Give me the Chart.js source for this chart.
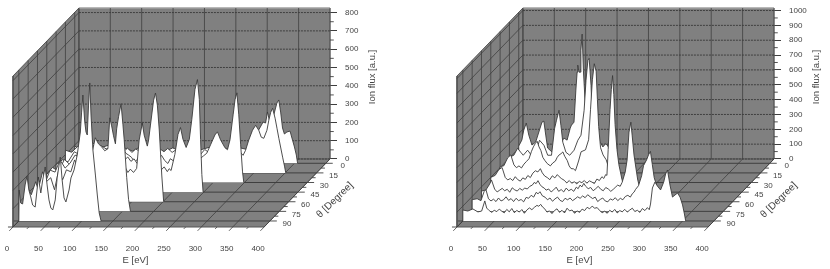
<!DOCTYPE html>
<html lang="en">
<head>
<meta charset="UTF-8">
<title>Ion flux versus energy and angle</title>
<script src="https://cdn.jsdelivr.net/npm/chart.js"></script>
<style>
  body { margin: 0; background: #fff; }
  canvas { position: absolute; top: 0; filter: blur(0.4px); }
  #leftChart { left: 0; }
  #rightChart { left: 415px; }
</style>
</head>
<body>
<canvas id="leftChart" width="415" height="269"></canvas>
<canvas id="rightChart" width="415" height="269"></canvas>
<script>
// tick labels
var energyTicks = [0, 50, 100, 150, 200, 250, 300, 350, 400];
var thetaTicks = [0, 15, 30, 45, 60, 75, 90];
var leftFluxTicks = [0, 100, 200, 300, 400, 500, 600, 700, 800];
var rightFluxTicks = [0, 100, 200, 300, 400, 500, 600, 700, 800, 900, 1000];

// left plot, one list of [E, flux] per angle
var left0 = [[0,0],[0,95],[8,73],[18,100],[28,73],[40,84],[53,89],[66,73],[79,84],[92,67],[104,89],[117,73],[130,84],[143,62],[156,84],[168,67],[184,84],[200,73],[216,89],[232,73],[248,84],[264,84],[277,73],[287,127],[293,182],[300,225],[304,220],[307,280],[310,236],[314,215],[317,264],[322,329],[325,346],[328,280],[331,193],[334,160],[338,171],[343,176],[346,138],[350,89],[353,45],[355,0]];
var left15 = [[0,0],[0,124],[10,113],[20,146],[31,124],[42,168],[55,135],[68,151],[81,124],[87,138],[93,118],[99,135],[106,112],[112,130],[119,118],[125,140],[132,112],[138,128],[145,108],[151,130],[157,116],[163,134],[170,112],[176,126],[183,106],[189,128],[195,120],[199,136],[205,108],[210,122],[215,100],[222,128],[228,112],[234,130],[241,104],[247,120],[253,92],[260,116],[266,128],[272,100],[279,112],[283,96],[287,124],[292,179],[298,233],[303,260],[308,233],[312,195],[316,189],[321,233],[324,288],[327,331],[330,353],[334,299],[337,244],[340,189],[346,86],[349,37],[351,0]];
var left30 = [[0,0],[0,97],[10,124],[19,113],[29,168],[38,151],[48,190],[58,168],[67,206],[77,179],[86,190],[96,168],[106,190],[111,160],[115,151],[120,138],[125,112],[130,128],[134,146],[139,118],[144,132],[149,110],[154,135],[158,112],[163,128],[168,148],[173,120],[178,104],[182,130],[187,118],[192,146],[197,120],[202,112],[207,136],[211,104],[216,128],[221,100],[226,118],[230,132],[235,146],[240,160],[246,206],[253,260],[257,277],[262,233],[269,190],[273,179],[277,233],[282,370],[285,452],[288,490],[291,370],[294,206],[297,58],[299,0]];
var left45 = [[0,0],[0,97],[9,135],[19,113],[28,179],[38,146],[48,206],[57,179],[67,233],[76,206],[86,255],[96,233],[105,222],[110,196],[115,212],[120,186],[124,176],[129,192],[134,168],[139,182],[144,156],[149,172],[153,148],[158,170],[163,140],[168,158],[172,132],[177,146],[182,120],[187,138],[192,112],[195,128],[198,118],[204,206],[209,315],[213,353],[217,288],[222,244],[227,288],[231,397],[236,561],[240,615],[243,506],[245,288],[247,97],[249,0]];
var left60 = [[0,0],[0,91],[7,129],[14,118],[20,173],[28,162],[36,228],[44,184],[52,211],[60,255],[68,239],[76,293],[84,282],[92,320],[100,282],[108,255],[116,282],[124,230],[128,200],[132,188],[136,172],[140,186],[144,160],[148,178],[153,160],[158,182],[162,337],[167,430],[170,364],[175,304],[177,337],[180,419],[185,555],[188,594],[191,528],[194,392],[198,146],[201,0]];
var left75 = [[0,0],[1,118],[5,91],[12,162],[16,118],[23,216],[29,162],[36,184],[42,118],[48,216],[55,173],[61,227],[68,216],[74,281],[80,238],[87,309],[93,336],[100,293],[107,402],[112,369],[117,353],[122,331],[127,342],[130,511],[133,467],[136,413],[139,369],[141,451],[144,517],[148,588],[151,473],[153,391],[157,184],[160,64],[163,0]];
var left90 = [[0,0],[0.5,169],[3,98],[6,93],[10,197],[13,246],[16,169],[19,131],[22,87],[26,76],[29,169],[31,240],[35,153],[38,224],[42,295],[45,197],[48,115],[51,71],[54,60],[58,115],[61,235],[66,349],[69,224],[72,126],[75,104],[80,169],[83,235],[88,279],[93,360],[98,486],[100,595],[102,688],[105,541],[107,486],[109,470],[111,633],[113,754],[115,579],[118,388],[122,251],[125,142],[128,44],[131,0]];

// right plot
var right0 = [[0,0],[0,116],[5,157],[8,224],[12,271],[16,190],[21,123],[27,143],[34,237],[37,277],[40,284],[43,190],[46,103],[53,76],[59,89],[66,123],[72,170],[77,156],[82,237],[84,257],[88,277],[91,493],[93,614],[94,661],[96,614],[98,614],[99,762],[101,870],[103,627],[106,392],[108,312],[112,157],[118,136],[122,148],[126,128],[130,140],[134,110],[138,130],[141,123],[147,76],[154,22],[160,0]];
var right15 = [[0,0],[0,106],[7,119],[13,166],[18,139],[22,119],[29,153],[35,119],[42,139],[48,220],[55,186],[61,119],[67,119],[72,301],[75,355],[79,422],[82,321],[85,207],[90,139],[96,119],[103,153],[109,220],[114,254],[119,422],[122,624],[125,759],[127,772],[130,590],[132,355],[133,187],[138,166],[144,119],[152,52],[160,0]];
var right30 = [[0,0],[0,106],[6,113],[12,166],[17,186],[22,119],[26,100],[30,112],[34,98],[38,124],[42,142],[46,160],[50,210],[53,240],[56,262],[59,278],[62,240],[65,215],[68,170],[71,150],[75,128],[80,112],[84,132],[88,144],[91,170],[94,186],[97,194],[100,206],[103,176],[107,148],[110,112],[113,94],[117,92],[120,80],[123,118],[125,145],[129,207],[136,220],[141,288],[144,490],[147,692],[150,800],[153,748],[155,559],[157,377],[160,234],[164,186],[169,153],[175,72],[183,0]];
var right45 = [[0,0],[0,99],[7,113],[13,153],[18,166],[23,99],[27,82],[31,92],[35,78],[39,104],[43,84],[47,74],[51,96],[55,86],[59,112],[63,98],[67,128],[71,144],[75,136],[79,158],[82,130],[86,108],[90,98],[94,84],[98,110],[102,96],[106,118],[109,104],[113,90],[117,80],[121,62],[125,78],[129,60],[133,70],[137,56],[141,72],[145,64],[149,78],[153,60],[157,76],[161,68],[165,58],[169,88],[173,78],[177,104],[180,92],[183,118],[185,113],[187,288],[190,557],[192,692],[194,785],[196,657],[198,455],[201,288],[204,186],[209,85],[215,0]];
var right60 = [[0,0],[0,72],[7,79],[13,119],[16,146],[21,85],[25,66],[29,78],[33,90],[37,74],[41,84],[45,64],[49,94],[53,80],[57,72],[61,90],[65,78],[69,92],[73,86],[77,104],[81,112],[84,130],[87,122],[90,142],[93,118],[96,102],[100,92],[103,78],[107,86],[111,66],[115,80],[119,98],[123,70],[127,82],[131,66],[135,92],[139,74],[143,84],[147,70],[151,98],[154,88],[157,112],[160,100],[163,124],[166,104],[170,88],[174,96],[178,74],[182,88],[186,104],[190,84],[194,74],[198,96],[202,86],[206,70],[210,84],[214,100],[217,112],[221,104],[224,130],[229,200],[232,281],[235,469],[238,536],[240,449],[243,315],[247,200],[249,146],[254,65],[259,0]];
var right75 = [[0,0],[0,79],[8,85],[14,72],[19,133],[22,146],[26,85],[30,70],[34,82],[38,66],[42,90],[46,70],[50,78],[54,98],[58,74],[62,86],[66,66],[70,88],[74,72],[78,80],[82,64],[86,94],[90,88],[94,108],[98,96],[102,128],[105,118],[108,132],[112,104],[116,96],[120,78],[124,90],[128,68],[132,84],[136,96],[140,74],[144,66],[148,88],[152,78],[156,90],[160,72],[164,84],[168,98],[172,88],[176,104],[180,92],[184,112],[188,98],[192,86],[196,96],[200,66],[204,80],[208,90],[212,70],[216,64],[220,84],[224,76],[228,92],[232,72],[236,88],[240,78],[244,100],[248,108],[252,96],[255,118],[258,130],[260,146],[265,173],[270,240],[273,308],[278,348],[281,381],[284,404],[287,315],[290,227],[294,173],[297,106],[302,0]];
var right90 = [[0,0],[0,74],[8,67],[16,81],[24,61],[30,67],[35,135],[38,87],[42,70],[46,58],[50,72],[54,63],[58,80],[62,66],[66,55],[70,78],[74,62],[78,84],[82,56],[86,71],[90,60],[94,77],[98,52],[102,74],[106,88],[110,76],[114,92],[118,105],[121,99],[124,112],[127,94],[130,84],[134,60],[138,68],[142,50],[146,70],[150,82],[154,58],[158,72],[162,54],[166,86],[170,68],[174,74],[178,52],[182,68],[186,58],[190,80],[194,70],[198,92],[202,82],[206,100],[210,86],[214,90],[218,70],[222,56],[226,66],[230,52],[234,72],[238,60],[242,78],[246,54],[250,70],[254,62],[258,78],[262,60],[266,74],[270,86],[274,64],[278,72],[282,58],[286,84],[290,70],[294,90],[297,76],[299,114],[302,222],[306,262],[310,235],[315,209],[320,262],[323,316],[326,343],[330,242],[334,161],[338,175],[342,188],[346,161],[350,108],[353,47],[355,0]];

var thetaBack = -6.7;
var thetaFront = 99.4;
var skewE = 105;
var wallColor = '#808080';
var gridColor = '#3f3f3f';
var lineColor = '#3a3a3a';
var textColor = '#444';
var fontFamily = '"Liberation Sans", Arial, sans-serif';

function makePanel(canvasId, fluxTicks, curves, wallTop, skewFlux, padLeft) {
    var eMax = energyTicks[energyTicks.length - 1];

    // oblique projection of (E, theta, flux) onto the two chart axes
    function project(e, theta, flux) {
        var t = (thetaFront - theta) / (thetaFront - thetaBack);
        return { x: e + t * skewE, y: flux + t * skewFlux };
    }

    var datasets = [];
    function add(points, color, width, dash, fillColor) {
        datasets.push({
            data: points,
            showLine: true,
            pointRadius: 0,
            tension: 0,
            clip: false,
            borderColor: color,
            borderWidth: width,
            borderDash: dash || [],
            backgroundColor: fillColor || 'transparent',
            fill: fillColor ? 'shape' : false
        });
    }

    // walls and floor
    add([project(0, thetaBack, 0), project(eMax, thetaBack, 0), project(eMax, thetaBack, wallTop), project(0, thetaBack, wallTop), project(0, thetaBack, 0)], '#777', 1, null, wallColor);
    add([project(0, thetaFront, 0), project(0, thetaBack, 0), project(0, thetaBack, wallTop), project(0, thetaFront, wallTop), project(0, thetaFront, 0)], '#555', 1, null, wallColor);
    add([project(0, thetaFront, 0), project(eMax, thetaFront, 0), project(eMax, thetaBack, 0), project(0, thetaBack, 0), project(0, thetaFront, 0)], '#555', 1, null, wallColor);
    add([project(0, thetaBack, wallTop), project(eMax, thetaBack, wallTop)], '#b5b5b5', 1);

    // grid on the walls
    energyTicks.forEach(function(e) {
        add([project(e, thetaBack, 0), project(e, thetaBack, wallTop)], gridColor, 0.8);
        add([project(e, thetaFront, 0), project(e, thetaBack, 0)], gridColor, 0.8);
    });
    fluxTicks.forEach(function(f) {
        add([project(0, thetaBack, f), project(eMax, thetaBack, f)], gridColor, 1, [2, 1]);
        add([project(0, thetaFront, f), project(0, thetaBack, f)], gridColor, 0.8);
    });
    thetaTicks.forEach(function(th) {
        add([project(0, th, 0), project(0, th, wallTop)], gridColor, 0.8);
        add([project(0, th, 0), project(eMax, th, 0)], gridColor, 1);
    });

    // the spectra, far one first
    curves.forEach(function(curve, i) {
        var pts = curve.map(function(p) { return project(p[0], thetaTicks[i], p[1]); });
        add(pts, lineColor, 0.9, null, '#fff');
    });

    // tick stubs that sit on the slanted axes
    energyTicks.forEach(function(e) {
        add([project(e, thetaFront, 0), project(e, thetaFront + 6, 0)], gridColor, 0.8);
        if (e < eMax) add([project(e + 25, thetaFront, 0), project(e + 25, thetaFront + 3, 0)], gridColor, 0.8);
    });
    thetaTicks.forEach(function(th) {
        add([project(eMax, th, 0), project(eMax + 11, th, 0)], gridColor, 0.9);
        if (th < 90) add([project(eMax, th + 7.5, 0), project(eMax + 6, th + 7.5, 0)], gridColor, 0.9);
    });
    add([project(-8, 90, 0), project(0, 90, 0)], gridColor, 0.9);
    add([project(-8, thetaFront, 0), project(0, thetaFront, 0)], gridColor, 0.9);
    for (var i = 0; i + 1 < fluxTicks.length; i++) {
        var half = (fluxTicks[i] + fluxTicks[i + 1]) / 2;
        add([project(eMax, thetaBack, half), project(eMax + 6, thetaBack, half)], gridColor, 0.9);
    }

    // Chart.js draws the first dataset on top
    datasets.reverse();

    var floorBack = project(0, thetaBack, 0).y;

    new Chart(document.getElementById(canvasId), {
        type: 'scatter',
        data: { datasets: datasets },
        plugins: [{
            id: 'obliqueLabels',
            afterDraw: function(chart) {
                var ctx = chart.ctx, sx = chart.scales.x, sy = chart.scales.y;
                ctx.save();
                ctx.fillStyle = textColor;
                ctx.textAlign = 'center';
                ctx.textBaseline = 'middle';
                ctx.font = '8px ' + fontFamily;
                thetaTicks.forEach(function(th) {
                    var p = project(eMax, th, 0);
                    ctx.fillText(String(th), sx.getPixelForValue(p.x) + 17, sy.getPixelForValue(p.y) + 3);
                });
                ctx.font = '9.5px ' + fontFamily;
                var c = project(eMax / 2, thetaFront, 0);
                ctx.fillText('E [eV]', sx.getPixelForValue(c.x) - 3, 260);
                ctx.save();
                ctx.translate(chart.chartArea.right + 42, 77);
                ctx.rotate(-Math.PI / 2);
                ctx.fillText('Ion flux [a.u.]', 0, 0);
                ctx.restore();
                var m = project(eMax, 45, 0);
                ctx.translate(sx.getPixelForValue(m.x) + 37, sy.getPixelForValue(m.y) + 8);
                ctx.rotate(-44 * Math.PI / 180);
                ctx.font = '10px ' + fontFamily;
                ctx.fillText('\u03b8 [Degree]', 0, 0);
                ctx.restore();
            }
        }],
        options: {
            responsive: false,
            animation: false,
            layout: { padding: { left: padLeft, top: 8, right: 0, bottom: 0 } },
            plugins: { legend: { display: false }, tooltip: { enabled: false } },
            scales: {
                x: {
                    type: 'linear',
                    min: 0,
                    max: eMax + skewE,
                    grid: { display: false },
                    border: { display: false },
                    afterBuildTicks: function(scale) {
                        scale.ticks = energyTicks.map(function(v) { return { value: v }; });
                    },
                    afterFit: function(scale) {
                        scale.height = 42;
                        scale.paddingLeft = 0;
                        scale.paddingRight = 0;
                    },
                    ticks: {
                        autoSkip: false,
                        maxRotation: 0,
                        padding: 9,
                        labelOffset: -6,
                        color: textColor,
                        font: { size: 8, family: fontFamily }
                    }
                },
                y: {
                    type: 'linear',
                    position: 'right',
                    min: 0,
                    max: wallTop + skewFlux,
                    border: { display: false },
                    grid: { drawOnChartArea: false, drawTicks: true, tickLength: 7, color: gridColor },
                    afterBuildTicks: function(scale) {
                        scale.ticks = fluxTicks.map(function(v) { return { value: v + floorBack }; });
                    },
                    afterFit: function(scale) {
                        scale.width = 415 - padLeft - 317;
                        scale.paddingTop = 0;
                        scale.paddingBottom = 0;
                    },
                    ticks: {
                        autoSkip: false,
                        padding: 8,
                        color: textColor,
                        font: { size: 8, family: fontFamily },
                        callback: function(value) { return Math.round(value - floorBack); }
                    }
                }
            }
        }
    });
}

makePanel('leftChart', leftFluxTicks, [left0, left15, left30, left45, left60, left75, left90], 825, 371.6, 13);
makePanel('rightChart', rightFluxTicks, [right0, right15, right30, right45, right60, right75, right90], 1017, 458, 42);
</script>
</body>
</html>
